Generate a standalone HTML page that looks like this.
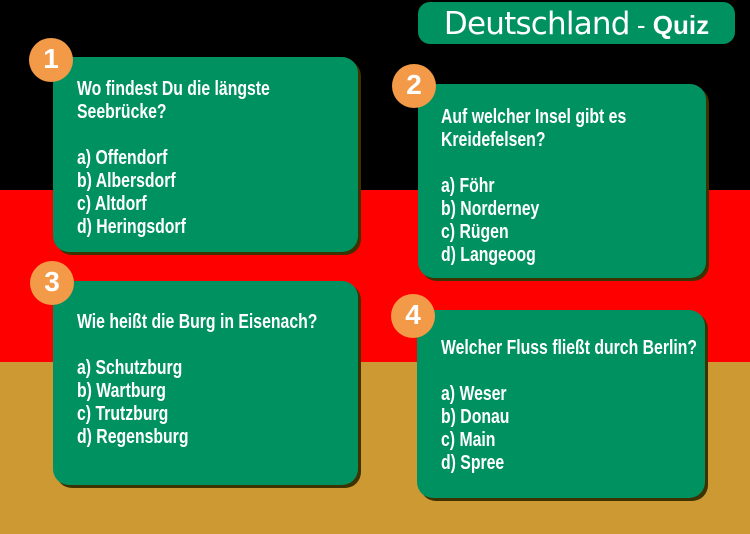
<!DOCTYPE html>
<html><head><meta charset="utf-8"><style>
body{margin:0;width:750px;height:534px;position:relative;overflow:hidden;font-family:"Liberation Sans",Arial,sans-serif}
.band{position:absolute;left:0;width:750px}
.box{position:absolute;background:#009160;border-radius:16px;box-shadow:3px 3px 0 #3d3200}
.c{position:absolute;width:44px;height:44px;border-radius:50%;background:#f39a48;color:#fff;font-weight:bold;font-size:28px;text-align:center;line-height:42px}
.t{position:absolute;color:#fff;font-weight:bold;font-size:20px;line-height:23px;white-space:pre;transform:scaleX(0.79);transform-origin:0 0}
</style></head><body>
<div class="band" style="top:0;height:190px;background:#000"></div>
<div class="band" style="top:190px;height:172px;background:#ff0000"></div>
<div class="band" style="top:362px;height:172px;background:#cc9933"></div>

<div style="position:absolute;left:418px;top:2px;width:317px;height:42px;background:#009160;border-radius:12px;color:#fff;text-align:center;line-height:44px"><span style="font-size:31px;font-family:'DejaVu Sans',sans-serif;font-weight:normal;letter-spacing:-0.8px">Deutschland</span><span style="font-size:26px"> - <b>Quiz</b></span></div>

<div class="box" style="left:53px;top:57px;width:305px;height:195px"></div>
<div class="box" style="left:418px;top:84px;width:288px;height:194px"></div>
<div class="box" style="left:53px;top:281px;width:305px;height:204px"></div>
<div class="box" style="left:417px;top:310px;width:288px;height:188px"></div>

<div class="c" style="left:29px;top:38px">1</div>
<div class="c" style="left:392px;top:64px">2</div>
<div class="c" style="left:30px;top:261px">3</div>
<div class="c" style="left:391px;top:294px">4</div>

<div class="t" style="left:77px;top:78px">Wo findest Du die längste
Seebrücke?

a) Offendorf
b) Albersdorf
c) Altdorf
d) Heringsdorf</div>
<div class="t" style="left:441px;top:106px">Auf welcher Insel gibt es
Kreidefelsen?

a) Föhr
b) Norderney
c) Rügen
d) Langeoog</div>
<div class="t" style="left:77px;top:311px">Wie heißt die Burg in Eisenach?

a) Schutzburg
b) Wartburg
c) Trutzburg
d) Regensburg</div>
<div class="t" style="left:441px;top:337px">Welcher Fluss fließt durch Berlin?

a) Weser
b) Donau
c) Main
d) Spree</div>
</body></html>
